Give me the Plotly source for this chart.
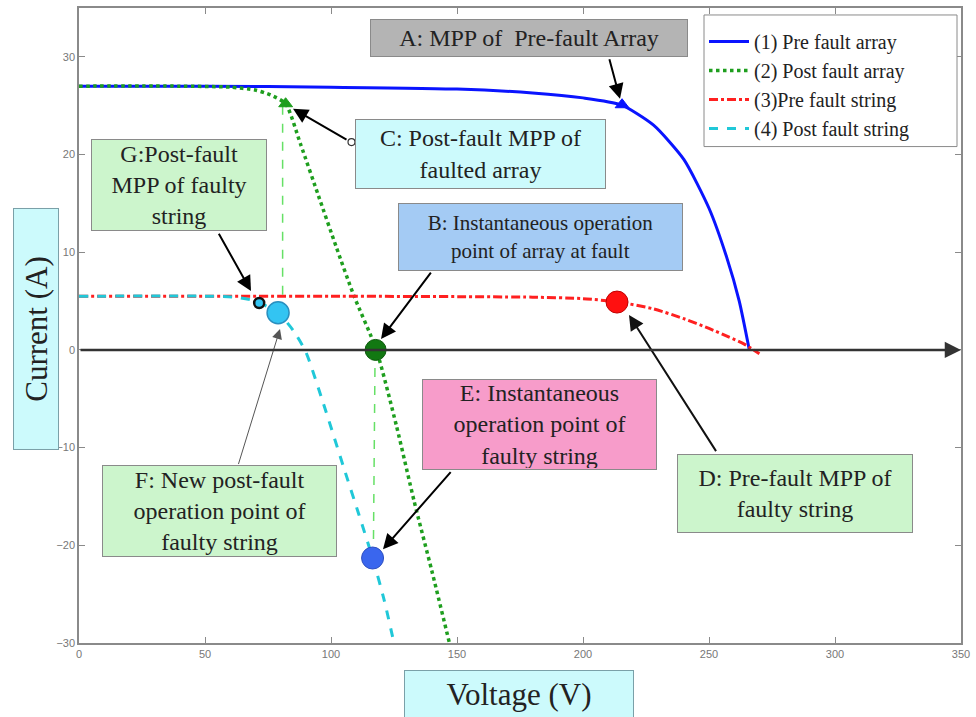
import plotly.graph_objects as go

# ---------------- data ----------------
x_ticks = [0, 50, 100, 150, 200, 250, 300, 350]
y_ticks = [-30, -20, -10, 0, 10, 20, 30]

# (1) pre-fault array I-V curve
v_pre_array = [0, 50, 100, 150, 180, 200, 215, 228, 240, 250, 257, 262, 266]
i_pre_array = [27, 27, 26.9, 26.7, 26.3, 25.8, 25.1, 23.0, 19.5, 14.5, 9.5, 5.0, 0]

# (2) post-fault array I-V curve
v_post_array = [0, 40, 60, 70, 76, 82, 88, 95, 102, 109, 118, 126, 133, 140, 147]
i_post_array = [27, 27, 26.9, 26.6, 26.1, 25.2, 21.0, 15.8, 10.6, 5.6, 0, -7.8, -15.5, -22.6, -30]

# (3) pre-fault string I-V curve
v_pre_string = [0, 100, 180, 200, 214, 228, 240, 250, 258, 264, 270]
i_pre_string = [5.5, 5.5, 5.4, 5.25, 4.9, 4.2, 3.2, 2.2, 1.3, 0.6, -0.4]

# (4) post-fault string I-V curve
v_post_string = [0, 50, 62, 70, 79, 85, 90, 97, 105, 111, 116.5, 121, 125]
i_post_string = [5.5, 5.5, 5.4, 5.0, 3.8, 2.0, -0.2, -5.5, -12, -16.8, -21.3, -25.5, -30]

# vertical guide lines
v_guide_1 = [80.8, 80.8]
i_guide_1 = [25.0, 5.5]
v_guide_2 = [117.5, 116.8]
i_guide_2 = [0, -21.0]

# key points
pt_A = (215.5, 25.1)   # MPP pre-fault array
pt_C = (82.0, 25.2)    # post-fault MPP of faulted array
pt_B = (117.7, 0.0)    # instantaneous operating point of array
pt_D = (213.5, 4.9)    # pre-fault MPP of faulty string
pt_G = (71.5, 4.8)     # post-fault MPP of faulty string
pt_F = (79.0, 3.8)     # new post-fault operation point
pt_E = (116.5, -21.3)  # instantaneous operation point of faulty string

# ---------------- helpers (pixel -> axis, for layout only) ----------------
L, R, T, B = 79, 961, 6, 643
def X(px):
    return (px - L) / (R - L) * 350
def Y(py):
    return 35 - (py - T) / (B - T) * 65
def PX(px):
    return (px - L) / (R - L)
def PY(py):
    return (B - py) / (B - T)

fig = go.Figure()

fig.add_trace(go.Scatter(x=v_pre_array, y=i_pre_array, mode='lines', name='(1) Pre fault array',
                         line=dict(color='#0a14ff', width=3, shape='spline', smoothing=0.6)))
fig.add_trace(go.Scatter(x=v_post_array, y=i_post_array, mode='lines', name='(2) Post fault array',
                         line=dict(color='#1e9e1e', width=3.5, dash='dot', shape='spline', smoothing=0.6)))
fig.add_trace(go.Scatter(x=v_pre_string, y=i_pre_string, mode='lines', name='(3)Pre fault string',
                         line=dict(color='#ff2020', width=3, dash='dashdot', shape='spline', smoothing=0.6)))
fig.add_trace(go.Scatter(x=v_post_string, y=i_post_string, mode='lines', name='(4) Post fault string',
                         line=dict(color='#20c8d8', width=3, dash='dash', shape='spline', smoothing=0.6)))

for vx, iy in [(v_guide_1, i_guide_1), (v_guide_2, i_guide_2)]:
    fig.add_trace(go.Scatter(x=vx, y=iy, mode='lines', showlegend=False,
                             line=dict(color='#66e066', width=1.5, dash='dash')))

def marker(pt, symbol, size, color, lcolor, lw):
    fig.add_trace(go.Scatter(x=[pt[0]], y=[pt[1]], mode='markers', showlegend=False,
                             marker=dict(symbol=symbol, size=size, color=color,
                                         line=dict(color=lcolor, width=lw))))

marker(pt_A, 'triangle-up', 12, '#0a14ff', '#0a14ff', 1)
marker(pt_C, 'triangle-up', 12, '#1e9e1e', '#1e9e1e', 1)
marker(pt_B, 'circle', 21, '#127812', '#0c5a0c', 1)
marker(pt_D, 'circle', 22, '#ff1010', '#c00000', 1)
marker(pt_F, 'circle', 22, '#33c4f2', '#2a8fbf', 1.5)
marker(pt_E, 'circle', 22, '#3a66ee', '#3050c0', 1)
marker(pt_G, 'circle', 10, '#33c4f2', '#111111', 2.5)

ann = []
serif = 'Liberation Serif'

# text boxes: text, left, top, right, bottom (pixels), background, font size
boxes = [
    ('A: MPP of\u00a0\u00a0Pre-fault Array', 370, 17, 688, 55, '#b4b4b4', 24),
    ('C: Post-fault MPP of<br>faulted array', 355, 117, 606, 187, '#ccfafc', 24),
    ('B: Instantaneous operation<br>point of array at fault', 398, 202, 683, 270, '#a4cbf4', 21),
    ('G:Post-fault<br>MPP of faulty<br>string', 91, 138, 267, 230, '#ccf5cc', 24),
    ('E: Instantaneous<br>operation point of<br>faulty string', 422, 378, 657, 469, '#f79cca', 24),
    ('D: Pre-fault MPP of<br>faulty string', 677, 454, 913, 533, '#ccf5cc', 24),
    ('F: New post-fault<br>operation point of<br>faulty string', 102, 465, 337, 557, '#ccf5cc', 24),
]
for txt, l, t, r, b, bg, fs in boxes:
    ann.append(dict(text=txt, x=X((l + r) / 2), y=Y((t + b) / 2), xref='x', yref='y',
                    xanchor='center', yanchor='middle', showarrow=False,
                    width=r - l - 4, height=b - t - 4, borderpad=1,
                    bgcolor=bg, bordercolor='#8a8a8a', borderwidth=1,
                    font=dict(family=serif, size=fs, color='#222222')))

# arrows: tail (px,py) -> head (px,py)
arrows = [
    ((609, 56), (620, 97), 'black', 2, 1.5, 2),
    ((348, 139), (293, 107), 'black', 2, 1.5, 2),
    ((218, 231), (251, 290), 'black', 2, 1.5, 2),
    ((432, 270), (381, 338), 'black', 2, 1.5, 2),
    ((452, 470), (383, 549), 'black', 2, 1.5, 2),
    ((717, 452), (629, 314), '#111111', 2, 1.5, 2),
    ((238, 465), (280, 328), '#555555', 1, 2, 2),
]
for (tx, ty), (hx, hy), col, w, sz, head in arrows:
    ann.append(dict(text='', x=X(hx), y=Y(hy), ax=X(tx), ay=Y(ty), xref='x', yref='y',
                    axref='x', ayref='y', showarrow=True, arrowhead=head, arrowsize=sz,
                    arrowwidth=w, arrowcolor=col))

shapes = [
    # legend frame
    dict(type='rect', xref='paper', yref='paper', x0=PX(704), x1=PX(957), y0=PY(145), y1=PY(13),
         fillcolor='white', line=dict(color='#8a8a8a', width=1), layer='above'),
    # small open circle at the tail of arrow C
    dict(type='circle', xref='x', yref='y', x0=X(348), x1=X(355), y0=Y(144), y1=Y(137),
         fillcolor='white', line=dict(color='#333333', width=1.2), layer='above'),
]

# zero line with arrow
ann.append(dict(text='', x=350, y=0, ax=0, ay=0, xref='x', yref='y', axref='x', ayref='y',
                showarrow=True, arrowhead=2, arrowsize=1.3, arrowwidth=2.5, arrowcolor='#333333'))

# axis titles in boxes
ann.append(dict(text='Current (A)', x=PX(36), y=PY(328), xref='paper', yref='paper',
                xanchor='center', yanchor='middle', showarrow=False, textangle=-90,
                width=238, height=42, borderpad=1, bgcolor='#ccfafc', bordercolor='#7aa0a8',
                borderwidth=1, font=dict(family=serif, size=31, color='#222222')))
ann.append(dict(text='Voltage (V)', x=PX(519), y=PY(694), xref='paper', yref='paper',
                xanchor='center', yanchor='middle', showarrow=False,
                width=226, height=44, borderpad=1, bgcolor='#ccfafc', bordercolor='#7aa0a8',
                borderwidth=1, font=dict(family=serif, size=31, color='#222222')))

axis_common = dict(showgrid=False, zeroline=False, showline=True, linecolor='#8a8a8a', linewidth=1.5,
                   mirror='ticks', ticks='inside', ticklen=6, tickcolor='#8a8a8a',
                   tickfont=dict(family='Liberation Sans', size=11, color='#777777'))

fig.update_layout(
    width=976, height=717,
    margin=dict(l=L, r=976 - R, t=T, b=717 - B),
    paper_bgcolor='white', plot_bgcolor='white',
    xaxis=dict(range=[0, 350], tickvals=x_ticks, **axis_common),
    yaxis=dict(range=[-30, 35], tickvals=y_ticks, **axis_common),
    annotations=ann,
    shapes=shapes,
    showlegend=True,
    legend=dict(x=PX(704), y=PY(20), xanchor='left', yanchor='top',
                bgcolor='rgba(0,0,0,0)', borderwidth=0,
                font=dict(family=serif, size=20, color='#222222'),
                tracegroupgap=0, itemwidth=40),
)

fig.write_html('out.html')
